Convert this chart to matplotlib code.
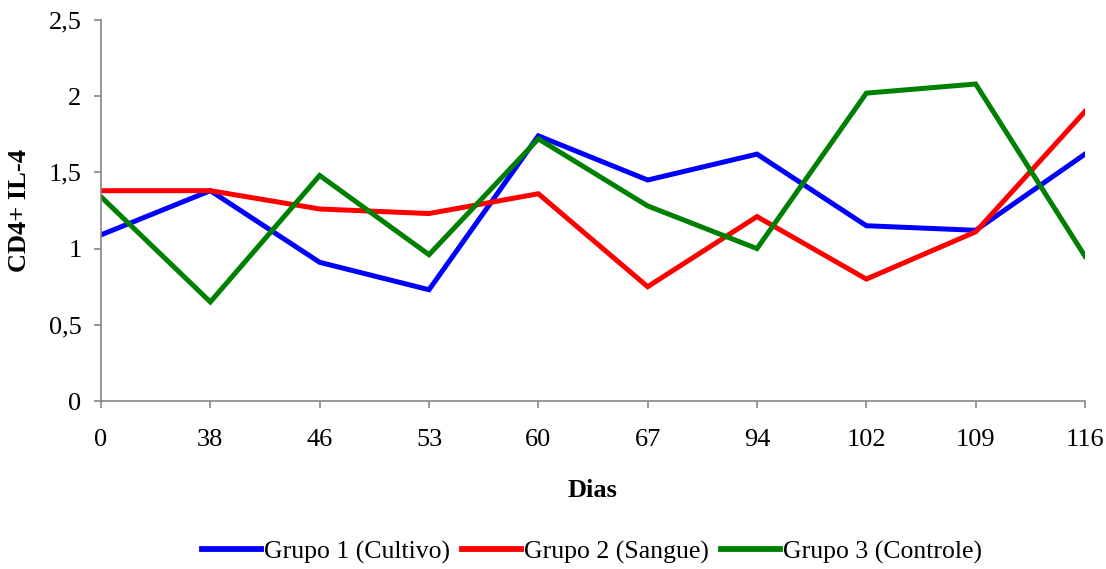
import matplotlib
matplotlib.use("Agg")
import matplotlib.pyplot as plt
from matplotlib.ticker import FuncFormatter

# Days of observation (categorical axis)
dias = ["0", "38", "46", "53", "60", "67", "94", "102", "109", "116"]

# CD4+ IL-4 values per group
grupo1_cultivo = [1.09, 1.38, 0.91, 0.73, 1.74, 1.45, 1.62, 1.15, 1.12, 1.62]
grupo2_sangue = [1.38, 1.38, 1.26, 1.23, 1.36, 0.75, 1.21, 0.80, 1.11, 1.90]
grupo3_controle = [1.34, 0.65, 1.48, 0.96, 1.72, 1.28, 1.00, 2.02, 2.08, 0.95]

series = [
    ("Grupo 1 (Cultivo)", grupo1_cultivo, "#0000ff"),
    ("Grupo 2 (Sangue)", grupo2_sangue, "#ff0000"),
    ("Grupo 3 (Controle)", grupo3_controle, "#008000"),
]

plt.rcParams["font.family"] = ["Liberation Serif", "DejaVu Serif"]
FS = 19

fig = plt.figure(figsize=(11.06, 5.69), dpi=100)
ax = fig.add_axes([101 / 1106, 1 - 401 / 569, (1085 - 101) / 1106, (401 - 20) / 569])

x = list(range(len(dias)))
for label, vals, color in series:
    ax.plot(x, vals, color=color, lw=3.6, label=label, solid_joinstyle="miter")

ax.set_xlim(0, len(dias) - 1)
ax.set_ylim(0, 2.5)
ax.set_xticks(x)
ax.set_xticklabels(dias)
ax.set_yticks([0, 0.5, 1, 1.5, 2, 2.5])
ax.yaxis.set_major_formatter(
    FuncFormatter(lambda v, _: ("%g" % v).replace(".", ","))
)

for side in ("top", "right"):
    ax.spines[side].set_visible(False)
for side in ("left", "bottom"):
    ax.spines[side].set_color("#868686")
    ax.spines[side].set_linewidth(1.2)

ax.tick_params(axis="both", direction="out", length=5, width=1.2,
               color="#868686", labelsize=FS, labelcolor="black")
ax.tick_params(axis="x", pad=15)
ax.tick_params(axis="y", pad=9)

ax.set_xlabel("Dias", fontsize=FS, fontweight="bold", labelpad=20)

# Vertical axis title placed near the left edge of the figure
fig.text(20 / 1106, 1 - 211 / 569, "CD4+ IL-4", fontsize=FS, fontweight="bold",
         rotation=90, ha="center", va="center")

leg = fig.legend(loc="center", bbox_to_anchor=(592 / 1106, 1 - 552 / 569), ncol=3,
                 frameon=False, fontsize=18.5, handlelength=2.3, handletextpad=0.12,
                 columnspacing=0.45)
for line in leg.get_lines():
    line.set_linewidth(4.2)

fig.savefig("out.png", dpi=100, facecolor="white")
